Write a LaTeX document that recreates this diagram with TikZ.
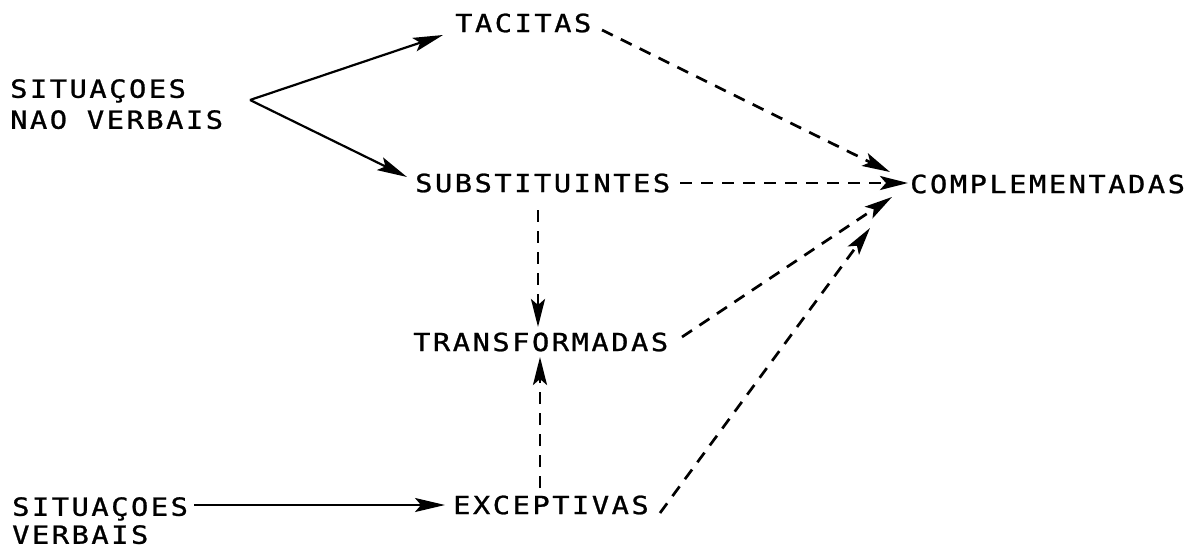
\documentclass[tikz,border=0pt]{standalone}
\usepackage{fontspec}
\newfontfamily\plotfont[LetterSpace=10,FakeStretch=1.15,FakeBold=1]{DejaVu Sans Mono}
\usetikzlibrary{arrows.meta,calc}
\tikzset{
  lbl/.style={font=\plotfont\fontsize{25pt}{31pt}\selectfont, inner sep=0pt, anchor=west, text height=18.2pt, text depth=0pt},
  mlbl/.style={font=\plotfont\fontsize{25pt}{#1}\selectfont, inner sep=0pt, anchor=north west, align=left},
  solidarrow/.style={line width=2.2pt, -{Stealth[length=30pt,width=14pt,inset=6pt]}},
  dasharrow/.style={line width=2.7pt, dash pattern=on 12pt off 9pt, -{Stealth[length=28pt,width=14pt,inset=6pt]}},
}
\begin{document}
\begin{tikzpicture}[x=1pt,y=-1pt]
\useasboundingbox (0,0) rectangle (1192,549);
\node[lbl] (tac) at (455,23) {TACITAS};
\node[mlbl=31pt] (snv) at (10,79) {SITUAÇOES\\NAO VERBAIS};
\node[lbl] (subs) at (415,183) {SUBSTITUINTES};
\node[lbl] (comp) at (910,184) {COMPLEMENTADAS};
\node[lbl] (trans) at (413,342) {TRANSFORMADAS};
\node[lbl] (exc) at (453,505) {EXCEPTIVAS};
\node[mlbl=28pt] (sv) at (12,497) {SITUAÇOES\\VERBAIS};
\coordinate (apex) at (250,100);

\draw[solidarrow] (apex) -- ($(tac.west)+(-12,12)$);
\draw[solidarrow] (apex) -- ($(subs.west)+(-8,-6)$);
\draw[solidarrow] ($(sv.north west)+(182,8)$) -- ($(exc.west)+(-8,0)$);

\draw[dasharrow] ($(tac.west)+(147,7)$) -- ($(comp.west)+(-20,-12)$);
\draw[dasharrow] ($(subs.west)+(265,0)$) -- ($(comp.west)+(-2,-1)$);
\draw[dasharrow] ($(subs.west)+(123,27)$) -- ($(trans.west)+(125,-15)$);
\draw[dasharrow] ($(trans.west)+(269,-5)$) -- ($(comp.west)+(-18,13)$);
\draw[dasharrow] ($(exc.west)+(87,-17)$) -- ($(trans.west)+(127,15)$);
\draw[dasharrow] ($(exc.west)+(207,8)$) -- ($(comp.west)+(-40,44)$);
\end{tikzpicture}
\end{document}
